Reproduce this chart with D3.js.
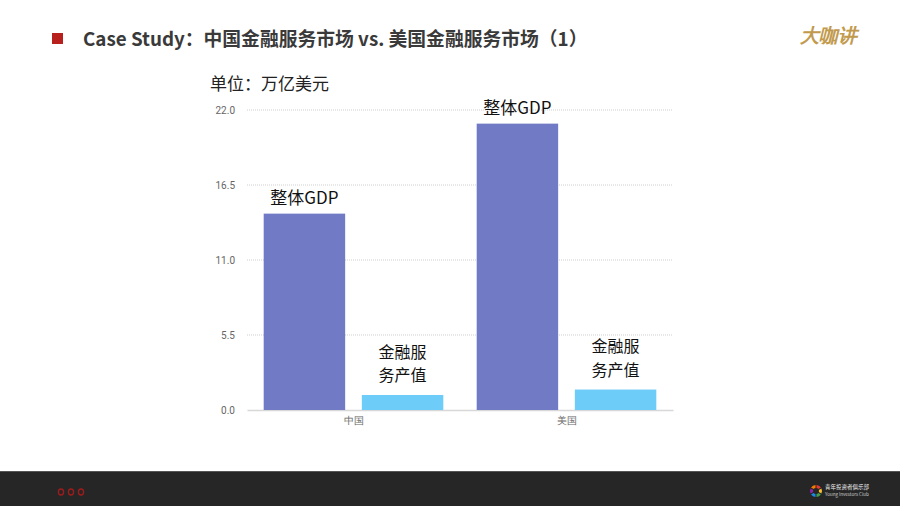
<!DOCTYPE html>
<html>
<head>
<meta charset="utf-8">
<script src="https://cdn.jsdelivr.net/npm/d3@7"></script>
<style>
  body { margin: 0; background: #fff; }
  svg { display: block; font-family: "Noto Sans CJK SC", "Noto Sans", sans-serif; }
</style>
</head>
<body>
<svg width="900" height="506"></svg>
<script>
const svg = d3.select("svg");
const width = +svg.attr("width");
const height = +svg.attr("height");

// data (万亿美元)
const countries = ["中国", "美国"];
const series = ["整体GDP", "金融服务产值"];
const gdp = [14.4, 21.0];
const finance = [1.1, 1.5];
const yTicks = [0, 5.5, 11, 16.5, 22];
const barLabels = [["整体GDP"], ["金融服", "务产值"]];
const colours = ["#717ac4", "#6ecdf8"];

const margin = { top: 110, right: 227, bottom: 96, left: 247 };
const innerW = width - margin.left - margin.right;
const innerH = height - margin.top - margin.bottom;

const rows = countries.map((c, i) => ({ country: c, values: [gdp[i], finance[i]] }));

const x0 = d3.scaleBand().domain(countries).range([0, innerW]);
const x1 = d3.scaleBand().domain(series).range([0, x0.bandwidth()])
    .paddingInner(0.17).paddingOuter(0.17);
const y = d3.scaleLinear().domain([0, 22]).range([innerH, 0]);

// header
svg.append("rect").attr("x", 52).attr("y", 33).attr("width", 11).attr("height", 11).attr("fill", "#b8201e");
svg.append("text")
    .attr("x", 83).attr("y", 46)
    .attr("font-size", 18.8).attr("font-weight", "bold").attr("fill", "#3a3a3a")
    .text("Case Study：中国金融服务市场 vs. 美国金融服务市场（1）");

svg.append("text")
    .attr("x", 828).attr("y", 42)
    .attr("text-anchor", "middle")
    .attr("font-size", 19).attr("font-style", "italic").attr("font-weight", "bold")
    .attr("font-family", "serif")
    .attr("fill", "#c29a4e")
    .text("大咖讲");

svg.append("text")
    .attr("x", 210).attr("y", 90)
    .attr("font-size", 17).attr("fill", "#222")
    .text("单位：万亿美元");

const g = svg.append("g").attr("transform", `translate(${margin.left},${margin.top})`);

// grid
g.append("g").selectAll("line")
    .data(yTicks.filter(d => d > 0))
    .join("line")
    .attr("x1", 0).attr("x2", innerW)
    .attr("y1", d => y(d)).attr("y2", d => y(d))
    .attr("stroke", "#cfcfcf").attr("stroke-dasharray", "1,1");

const yAxis = g.append("g")
    .call(d3.axisLeft(y).tickValues(yTicks).tickFormat(d3.format(".1f")).tickSize(0).tickPadding(12));
yAxis.select(".domain").remove();
yAxis.selectAll("text").attr("font-size", 10).attr("fill", "#666")
    .attr("font-family", "Roboto, sans-serif");

const xAxis = g.append("g").attr("transform", `translate(0,${innerH})`)
    .call(d3.axisBottom(x0).tickSize(0).tickPadding(7));
xAxis.select(".domain").attr("stroke", "#d8d8d8").attr("stroke-width", 1.5);
xAxis.selectAll("text").attr("font-size", 10).attr("fill", "#666");

// bars
const groups = g.selectAll(".grp")
    .data(rows)
    .join("g")
    .attr("class", "grp")
    .attr("transform", d => `translate(${x0(d.country)},0)`);

groups.selectAll("rect")
    .data(d => d.values.map((v, i) => ({ key: series[i], value: v, i })))
    .join("rect")
    .attr("x", d => x1(d.key))
    .attr("y", d => y(d.value))
    .attr("width", x1.bandwidth())
    .attr("height", d => innerH - y(d.value))
    .attr("fill", d => colours[d.i]);

// labels above bars, one text per line
groups.each(function (row) {
    const grp = d3.select(this);
    row.values.forEach((v, i) => {
        const lines = barLabels[i];
        const cx = x1(series[i]) + x1.bandwidth() / 2;
        const gap = i === 0 ? 10 : 14;
        const fs = i === 0 ? 17 : 16;
        lines.forEach((s, k) => {
            grp.append("text")
                .attr("text-anchor", "middle")
                .attr("font-size", fs).attr("fill", "#111")
                .attr("x", cx)
                .attr("y", y(v) - gap - (lines.length - 1 - k) * 23.5)
                .text(s);
        });
    });
});

// footer
svg.append("rect").attr("x", 0).attr("y", 471).attr("width", width).attr("height", 35).attr("fill", "#262626");
svg.append("line").attr("x1", 0).attr("x2", width).attr("y1", 471.5).attr("y2", 471.5).attr("stroke", "#555");
svg.append("g").selectAll("ellipse")
    .data([0, 1, 2])
    .join("ellipse")
    .attr("cx", d => 61 + d * 10).attr("cy", 492)
    .attr("rx", 2.6).attr("ry", 3)
    .attr("fill", "none").attr("stroke", "#a01c1c").attr("stroke-width", 1.3);

const ringColours = ["#e53935", "#fbc02d", "#43a047", "#1e88e5", "#8e24aa", "#f57c00"];
const arc = d3.arc().innerRadius(3).outerRadius(6);
const pie = d3.pie().value(1).padAngle(0.15);
svg.append("g").attr("transform", "translate(816,491)")
    .selectAll("path")
    .data(pie(ringColours))
    .join("path")
    .attr("d", arc)
    .attr("fill", d => d.data);
svg.append("text").attr("x", 825).attr("y", 489).attr("font-size", 5.5).attr("fill", "#eee").text("青年投资者俱乐部");
svg.append("text").attr("x", 825).attr("y", 496).attr("font-size", 4.5).attr("fill", "#ccc").text("Young Investors Club");
</script>
</body>
</html>
